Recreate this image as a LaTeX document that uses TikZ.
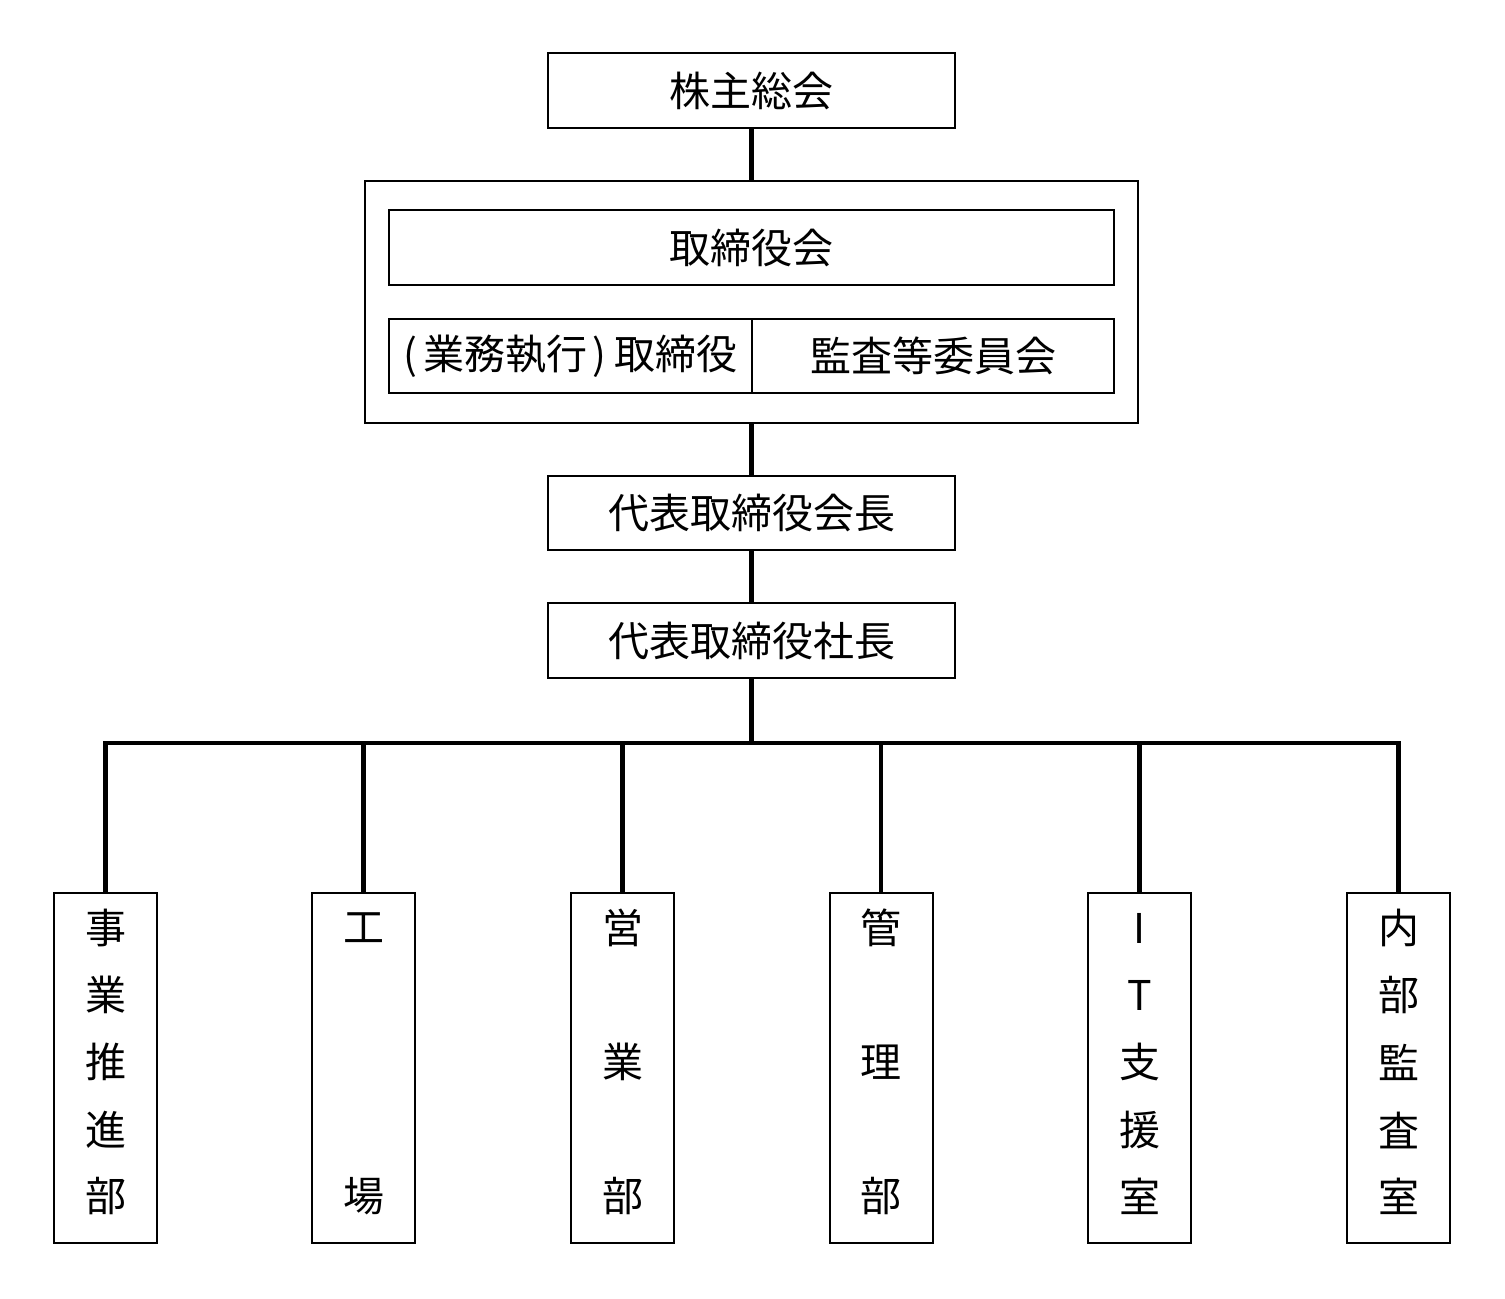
\documentclass[tikz,border=0pt]{standalone}
\usepackage{fontspec}
\setmainfont{Noto Sans CJK JP}
\begin{document}
\begin{tikzpicture}[x=0.5pt,y=-0.5pt,
  box/.style={draw=black,line width=1pt,inner sep=0pt,font=\fontsize{20.5}{24}\selectfont},
  conn/.style={draw=black,line width=2.2pt},
  vt/.style={font=\fontsize{20.5}{24}\selectfont,inner sep=0pt}]
\useasboundingbox (0,0) rectangle (1505,1298);
% top boxes
\node[box,minimum width=407pt*0.5,minimum height=75pt*0.5] (soukai) at (751.5,90.5) {株主総会};
\node[box,minimum width=773pt*0.5,minimum height=242pt*0.5] (outer) at (751.5,302) {};
\node[box,minimum width=725pt*0.5,minimum height=75pt*0.5] (torishimari) at (751.5,247.5) {取締役会};
\node[box,minimum width=363pt*0.5,minimum height=74pt*0.5] (gyomu) at (570.5,356) {(\kern3pt業務執行\kern2.5pt)\kern4pt取締役};
\node[box,minimum width=362pt*0.5,minimum height=74pt*0.5] (kansa) at (933,356) {監査等委員会};
\node[box,minimum width=407pt*0.5,minimum height=74pt*0.5] (kaicho) at (751.5,513) {代表取締役会長};
\node[box,minimum width=407pt*0.5,minimum height=75pt*0.5] (shacho) at (751.5,640.5) {代表取締役社長};
% connectors top
\draw[conn] (soukai.south) -- (outer.north);
\draw[conn] (outer.south) -- (kaicho.north);
\draw[conn] (kaicho.south) -- (shacho.north);
% bottom boxes
\foreach \n/\x in {b1/105.5,b2/363.5,b3/622.5,b4/881,b5/1139.5,b6/1398.5}{
  \node[box,minimum width=103pt*0.5,minimum height=350pt*0.5] (\n) at (\x,1068) {};
}
\coordinate (bus) at (751.5,743);
\draw[conn] (shacho.south) -- (bus);
\draw[conn] (b1.north) |- (bus) -| (b6.north);
\foreach \n in {b2,b3,b4,b5}{\draw[conn] (\n.north) -- (\n.north |- bus);}
% vertical texts
\foreach \n/\a/\b/\c/\d/\e in {b1/事/業/推/進/部, b5/I/T/支/援/室, b6/内/部/監/査/室}{
  \node[vt] (\n-1) at (\n.north |- 0,928) {\a};
  \node[vt] (\n-2) at (\n.north |- 0,995) {\b};
  \node[vt] (\n-3) at (\n.north |- 0,1062) {\c};
  \node[vt] (\n-4) at (\n.north |- 0,1130) {\d};
  \node[vt] (\n-5) at (\n.north |- 0,1196) {\e};
}
\node[vt] (b2-1) at (b2.north |- 0,928) {工};
\node[vt] (b2-2) at (b2.north |- 0,1196) {場};
\foreach \n/\a/\b/\c in {b3/営/業/部, b4/管/理/部}{
  \node[vt] (\n-1) at (\n.north |- 0,928) {\a};
  \node[vt] (\n-2) at (\n.north |- 0,1062) {\b};
  \node[vt] (\n-3) at (\n.north |- 0,1196) {\c};
}
\end{tikzpicture}
\end{document}
